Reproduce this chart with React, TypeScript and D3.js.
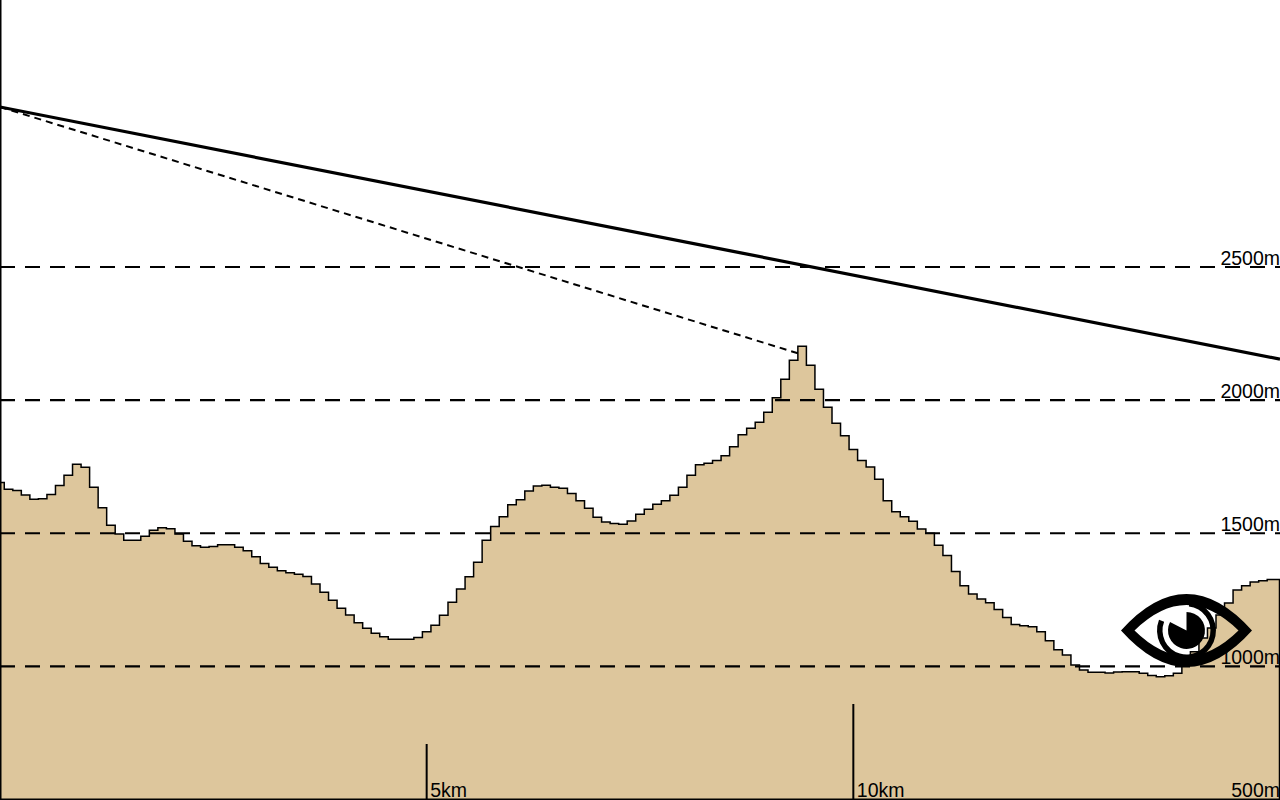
import React from "react";
import * as d3 from "d3";

const WIDTH = 1280;
const HEIGHT = 800;

// Terrain elevation (m), one sample each 0.1 km
const elevations = [
  1691, 1665, 1661, 1644, 1628, 1630, 1646, 1679, 1718, 1759,
  1748, 1673, 1596, 1530, 1497, 1474, 1474, 1489, 1511, 1521,
  1517, 1497, 1470, 1453, 1447, 1450, 1457, 1457, 1447, 1434,
  1412, 1386, 1372, 1359, 1352, 1346, 1338, 1309, 1278, 1248,
  1218, 1193, 1164, 1143, 1124, 1111, 1102, 1102, 1102, 1108,
  1130, 1154, 1192, 1241, 1291, 1337, 1391, 1474, 1525, 1562,
  1607, 1626, 1659, 1677, 1680, 1673, 1669, 1649, 1622, 1594,
  1560, 1542, 1537, 1534, 1546, 1571, 1590, 1609, 1622, 1643,
  1673, 1718, 1757, 1763, 1773, 1791, 1825, 1870, 1894, 1917,
  1954, 2009, 2078, 2150, 2202, 2131, 2041, 1973, 1913, 1866,
  1815, 1773, 1749, 1703, 1622, 1581, 1562, 1545, 1516, 1500,
  1455, 1416, 1356, 1303, 1272, 1253, 1239, 1214, 1184, 1157,
  1153, 1149, 1130, 1096, 1062, 1043, 1005, 986, 978, 978,
  975, 979, 980, 980, 974, 966, 961, 965, 974, 1005,
  1055, 1107, 1144, 1193, 1238, 1287, 1303, 1317, 1322, 1326,
  1326,
];
const sampleStepKm = 0.1;

const gridLevels = [1000, 1500, 2000, 2500];
const elevationLabels = [500, 1000, 1500, 2000, 2500];
const distanceTicks = [5, 10];
const distanceTickLengths = [56, 96]; // px, grows with the distance

const losKm = [0, 15];
const losElev = [3101, 2154];
const peakLosKm = [0, 9.38];
const peakLosElev = [3101, 2173];

const eyeCx = 1186.5;
const eyeCy = 630.5;

const x = d3.scaleLinear().domain([0, 15]).range([0, WIDTH]);
const y = d3.scaleLinear().domain([500, 2500]).range([799.5, 267]);

const profile = elevations.map((e, i) => [i * sampleStepKm, e] as [number, number]);

const areaPath = d3
  .area<[number, number]>()
  .x((d) => x(d[0]))
  .y0(HEIGHT + 2)
  .y1((d) => y(d[1]))
  .curve(d3.curveStep)(profile) as string;

const topPath = d3
  .line<[number, number]>()
  .x((d) => x(d[0]))
  .y((d) => y(d[1]))
  .curve(d3.curveStep)(profile) as string;

const straight = d3
  .line<[number, number]>()
  .x((d) => x(d[0]))
  .y((d) => y(d[1]));

const losPath = straight(losKm.map((k, i) => [k, losElev[i]] as [number, number])) as string;
const peakLosPath = straight(peakLosKm.map((k, i) => [k, peakLosElev[i]] as [number, number])) as string;

const pupil = d3
  .arc()
  .innerRadius(0)
  .outerRadius(18.5)
  .startAngle(0.0)
  .endAngle(2 * Math.PI - 1.1)({} as any) as string;

const ring = d3
  .arc()
  .innerRadius(24)
  .outerRadius(29.5)
  .startAngle(0.1)
  .endAngle(2 * Math.PI - 1.2)({} as any) as string;

const almond = (hw: number, hh: number) =>
  `M${-hw},0 Q0,${-hh * 2} ${hw},0 Q0,${hh * 2} ${-hw},0 Z`;

export default function App() {
  const font = "'Liberation Sans', Arial, sans-serif";
  return (
    <svg
      width={WIDTH}
      height={HEIGHT}
      viewBox={`0 0 ${WIDTH} ${HEIGHT}`}
      style={{ position: "absolute", left: 0, top: 0, display: "block", background: "#fff" }}
    >
      <path d={areaPath} fill="#DDC69C" />
      <path d={topPath} fill="none" stroke="#000" strokeWidth={1.5} />
      <line x1={WIDTH - 0.5} x2={WIDTH - 0.5} y1={y(elevations[elevations.length - 1])} y2={HEIGHT} stroke="#000" strokeWidth={1.5} />

      {gridLevels.map((g) => (
        <line key={g} x1={0} x2={WIDTH} y1={y(g)} y2={y(g)} stroke="#000" strokeWidth={2.2} strokeDasharray="15 10" />
      ))}

      <line x1={0} x2={0} y1={0} y2={HEIGHT} stroke="#000" strokeWidth={3} />
      <line x1={0} x2={WIDTH} y1={HEIGHT} y2={HEIGHT} stroke="#000" strokeWidth={3} />

      <path d={peakLosPath} fill="none" stroke="#000" strokeWidth={2} strokeDasharray="7 5" />
      <path d={losPath} fill="none" stroke="#000" strokeWidth={3.2} />

      {distanceTicks.map((k, i) => (
        <g key={k}>
          <line x1={x(k)} x2={x(k)} y1={HEIGHT - distanceTickLengths[i]} y2={HEIGHT} stroke="#000" strokeWidth={2} />
          <text x={x(k) + 3.5} y={797} fontFamily={font} fontSize={19.5} fill="#000">{`${k}km`}</text>
        </g>
      ))}

      {elevationLabels.map((e) => (
        <text key={e} x={WIDTH} y={e === 500 ? 797 : y(e) - 2.5} textAnchor="end" fontFamily={font} fontSize={19.5} fill="#000">
          {`${e}m`}
        </text>
      ))}

      <g transform={`translate(${eyeCx},${eyeCy})`}>
        <path d={almond(65.5, 36.5) + " " + almond(52, 25.5)} fill="#000" fillRule="evenodd" />
        <path d={ring} fill="#000" />
        <path d={pupil} fill="#000" />
      </g>
    </svg>
  );
}
